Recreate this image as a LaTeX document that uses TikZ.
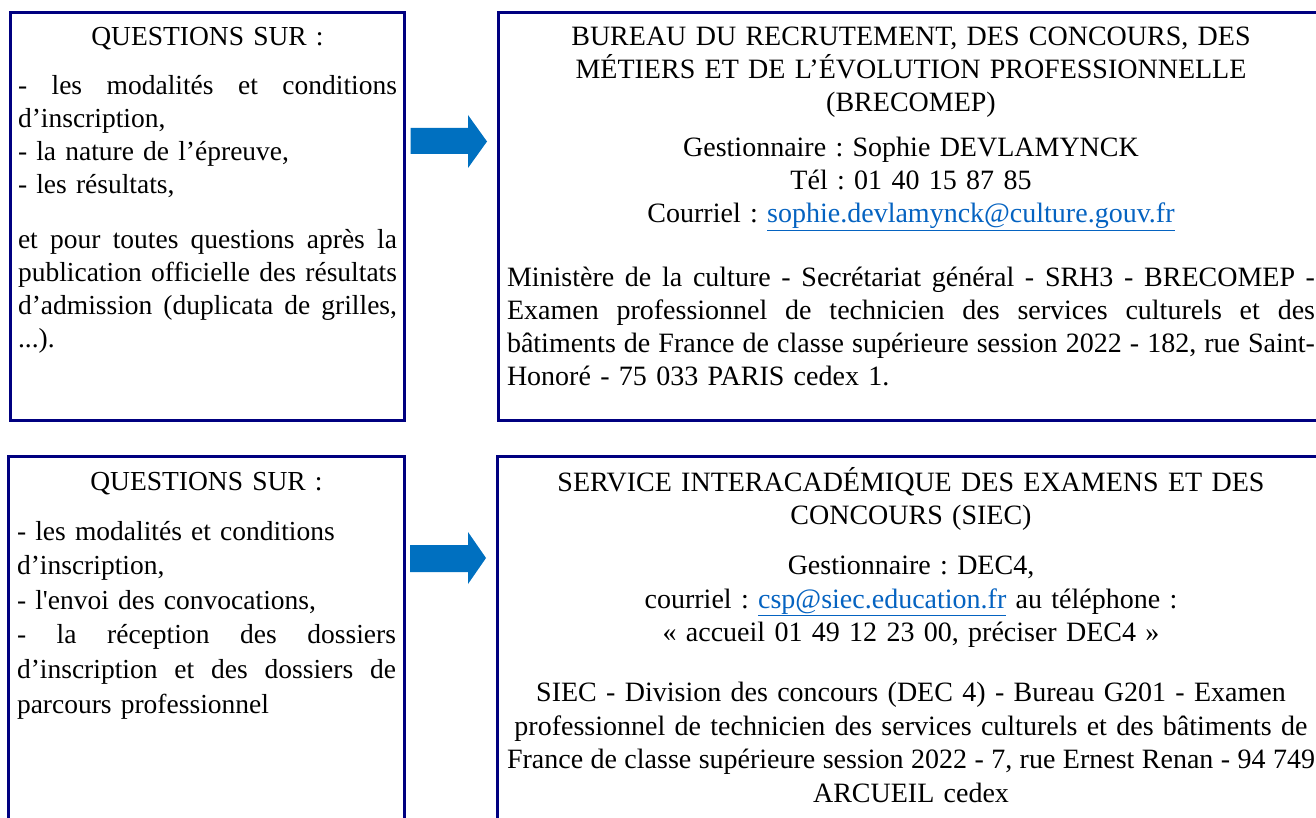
\documentclass[tikz,border=0pt]{standalone}
\usepackage{fontspec}
\setmainfont{Liberation Serif}
\newfontfamily\rawserif{Liberation Serif}[Ligatures=TeXOff]
\definecolor{boxnavy}{RGB}{0,0,128}
\definecolor{arrowblue}{RGB}{0,112,192}
\definecolor{linkblue}{RGB}{5,99,193}
\frenchspacing
\newcommand\jline[1]{\leavevmode\hbox to\linewidth{\spaceskip=.25em plus 1fil\relax\xspaceskip=\spaceskip #1}}
\newcommand\tightline[1]{\leavevmode\hbox to\linewidth{\spaceskip=.19em plus 1fil\relax\xspaceskip=\spaceskip #1}}
\newcommand\cenline[1]{\makebox[\linewidth][c]{#1}}
\newcommand\lnk[1]{\textcolor{linkblue}{\underline{#1}}}
\begin{document}
\begin{tikzpicture}[x=1pt,y=-1pt,
  frame/.style={draw=boxnavy,line width=3pt,fill=none,inner sep=0pt,outer sep=0pt,anchor=north west},
  txt/.style={anchor=base west,inner sep=0pt,outer sep=0pt,align=left},
  blockarrow/.style={fill=arrowblue}]
\useasboundingbox (0,0) rectangle (1316,818);
\clip (0,0) rectangle (1316,818);
\fill[white] (0,0) rectangle (1316,818);

% boxes
\node[frame,minimum width=393.8pt,minimum height=407.8pt] (qa) at (10.7,12.5) {};
\node[frame,minimum width=840pt,minimum height=408pt] (ra) at (498.5,12.5) {};
\node[frame,minimum width=396.2pt,minimum height=400pt] (qb) at (8.3,456.3) {};
\node[frame,minimum width=840pt,minimum height=400pt] (rb) at (497.5,456.3) {};

% arrows
\fill[blockarrow] (410.7,128) -- (468,128) -- (468,115) -- (487,141.5) -- (468,168) -- (468,154) -- (410.7,154) -- cycle;
\fill[blockarrow] (410,545) -- (468,545) -- (468,532) -- (486,558) -- (468,584) -- (468,572) -- (410,572) -- cycle;

% top left text
\node[txt,text width=379pt,font=\fontsize{27.5}{33}\selectfont] (qatext) at (18,46) {%
\cenline{QUESTIONS SUR :}\\[16pt]
\jline{- les modalités et conditions}\\
d’inscription,\\
- la nature de l’épreuve,\\
- les résultats,\\[22pt]
\jline{et pour toutes questions après la}\\
\jline{publication officielle des résultats}\\
\jline{d’admission (duplicata de grilles,}\\
...).};

% top right text
\node[txt,text width=808pt,font=\fontsize{28}{33}\selectfont] (ratext) at (507,46) {%
\cenline{BUREAU DU RECRUTEMENT, DES CONCOURS, DES}\\
\cenline{MÉTIERS ET DE L’ÉVOLUTION PROFESSIONNELLE}\\
\cenline{(BRECOMEP)}\\[12pt]
\cenline{Gestionnaire : Sophie DEVLAMYNCK}\\
\cenline{Tél : 01 40 15 87 85}\\
\cenline{Courriel : \lnk{sophie.devlamynck@culture.gouv.fr}}\\[31pt]
\jline{Ministère de la culture - Secrétariat général - SRH3 - BRECOMEP -}\\
\jline{Examen professionnel de technicien des services culturels et des}\\
\jline{bâtiments de France de classe supérieure session 2022 - 182, rue Saint-}\\
Honoré - 75 033 PARIS cedex 1.};

% bottom left text
\node[txt,text width=379pt,font=\fontsize{27.5}{34.6}\selectfont] (qbtext) at (17,490) {%
\cenline{QUESTIONS SUR :}\\[15.4pt]
- les modalités et conditions\\
d’inscription,\\
- {\rawserif l'envoi} des convocations,\\
\jline{- la réception des dossiers}\\
\jline{d’inscription et des dossiers de}\\
parcours professionnel};

% bottom right text
\node[txt,text width=808pt,font=\fontsize{28}{33.5}\selectfont] (rbtext) at (507,491) {%
\cenline{SERVICE INTERACADÉMIQUE DES EXAMENS ET DES}\\
\cenline{CONCOURS (SIEC)}\\[16.5pt]
\cenline{Gestionnaire : DEC4,}\\
\cenline{courriel : \lnk{csp@siec.education.fr} au téléphone :}\\
\cenline{« accueil 01 49 12 23 00, préciser DEC4 »}\\[26.5pt]
\cenline{SIEC - Division des concours (DEC 4) - Bureau G201 - Examen}\\
\cenline{professionnel de technicien des services culturels et des bâtiments de}\\
\tightline{France de classe supérieure session 2022 - 7, rue Ernest Renan - 94 749}\\
\cenline{ARCUEIL cedex}};
\end{tikzpicture}
\end{document}
